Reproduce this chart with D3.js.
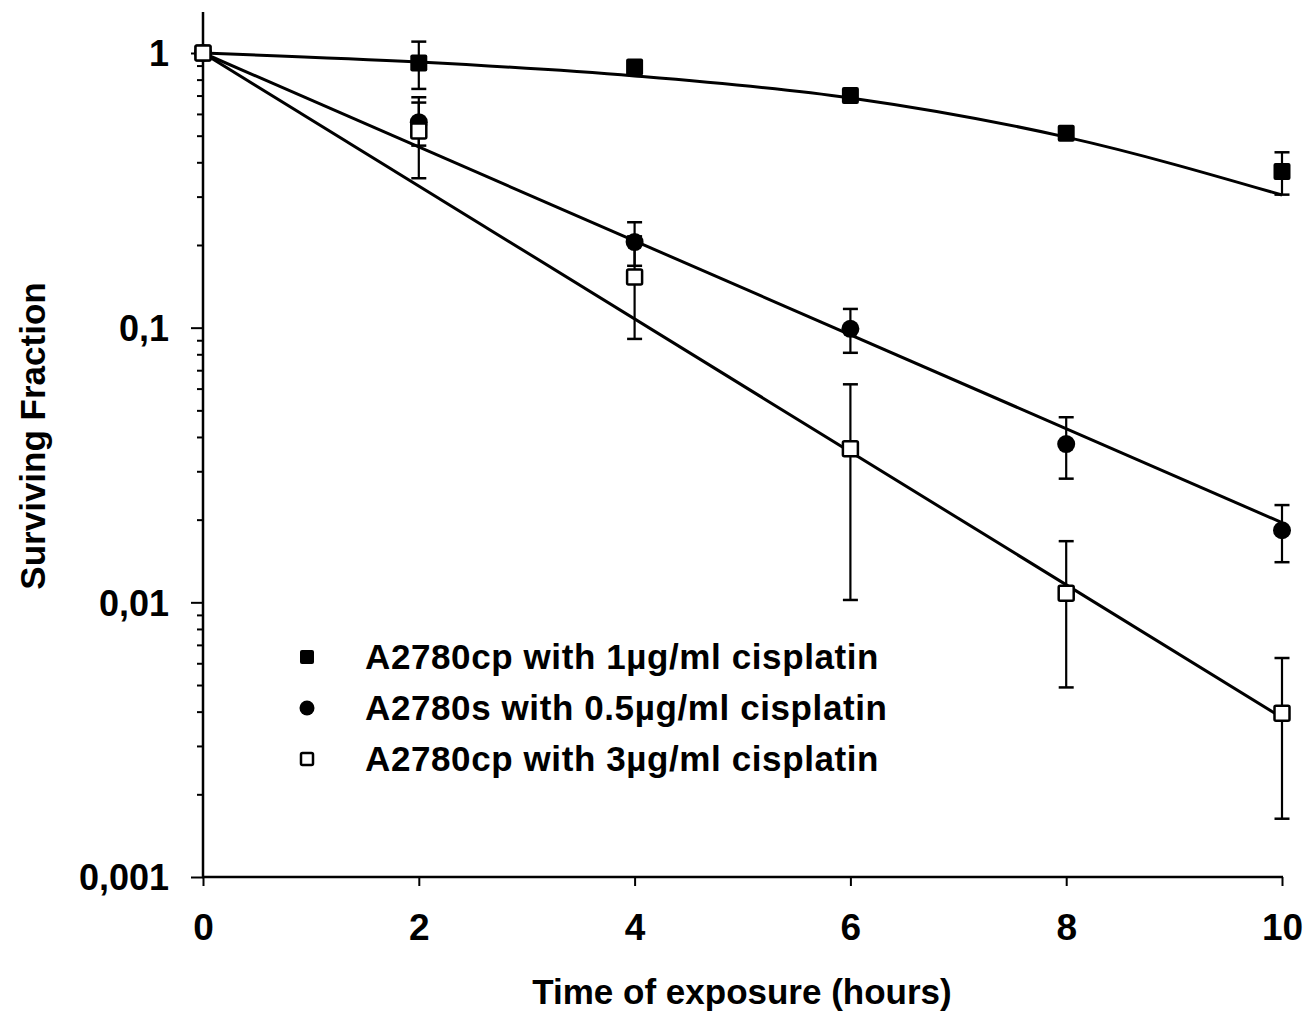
<!DOCTYPE html>
<html>
<head>
<meta charset="utf-8">
<script src="https://cdn.jsdelivr.net/npm/d3@7"></script>
<style>
  html, body { margin: 0; padding: 0; background: #fff; }
  svg { display: block; }
  text { font-family: "Liberation Sans", Arial, Helvetica, sans-serif; fill: #000; }
</style>
</head>
<body>
<svg id="chart" width="1308" height="1017"></svg>
<script>
// ---------------- data ----------------
const times = [0, 2, 4, 6, 8, 10];

const seriesNames = [
  "A2780cp with 1\u00B5g/ml cisplatin",
  "A2780s with 0.5\u00B5g/ml cisplatin",
  "A2780cp with 3\u00B5g/ml cisplatin"
];

// mean surviving fraction
const cp1Mean = [1.0, 0.92, 0.89, 0.70, 0.51, 0.37];
const s05Mean = [1.0, 0.56, 0.205, 0.099, 0.0377, 0.0183];
const cp3Mean = [1.0, 0.52, 0.153, 0.0362, 0.0108, 0.00395];

// standard deviation (error bars, linear units)
const cp1Sd = [0, 0.18, 0.03, 0.025, 0.015, 0.065];
const s05Sd = [0, 0.10, 0.037, 0.018, 0.0095, 0.0043];
const cp3Sd = [0, 0.17, 0.062, 0.026, 0.0059, 0.00232];

// fitted curves
const cp1FitTimes = [0, 2, 4, 6, 8, 10];
const cp1Fit = [1.0, 0.927, 0.825, 0.686, 0.494, 0.304];
const s05FitTimes = [0, 10];
const s05Fit = [1.0, 0.0195];
const cp3FitTimes = [0, 10];
const cp3Fit = [1.0, 0.0038];

// axis ticks
const xTicks = [0, 2, 4, 6, 8, 10];
const yMajorTicks = [1, 0.1, 0.01, 0.001];
const yTickLabels = ["1", "0,1", "0,01", "0,001"];
const xTitle = "Time of exposure (hours)";
const yTitle = "Surviving Fraction";

// ---------------- drawing ----------------
const svg = d3.select("#chart");

const x = d3.scaleLinear().domain([0, 10]).range([203, 1282]);
const y = d3.scaleLog().domain([0.001, 1]).range([877, 53]);

const series = [
  { name: seriesNames[0], mean: cp1Mean, sd: cp1Sd, fitT: cp1FitTimes, fit: cp1Fit, marker: "fsquare", curve: d3.curveMonotoneX },
  { name: seriesNames[1], mean: s05Mean, sd: s05Sd, fitT: s05FitTimes, fit: s05Fit, marker: "circle", curve: d3.curveLinear },
  { name: seriesNames[2], mean: cp3Mean, sd: cp3Sd, fitT: cp3FitTimes, fit: cp3Fit, marker: "osquare", curve: d3.curveLinear }
];

// axes lines
const axisG = svg.append("g");
axisG.append("line")
  .attr("x1", x(0)).attr("x2", x(0))
  .attr("y1", y(1.41)).attr("y2", y(0.001))
  .attr("stroke", "#000").attr("stroke-width", 2.5);
axisG.append("line")
  .attr("x1", x(0) - 1).attr("x2", x(10) + 1)
  .attr("y1", y(0.001)).attr("y2", y(0.001))
  .attr("stroke", "#000").attr("stroke-width", 2.5);

// y axis ticks via d3 axis (log)
const yMinor = [];
[0.001, 0.01, 0.1].forEach(d => { for (let k = 2; k <= 9; k++) yMinor.push(+(d * k).toPrecision(3)); });

const yAxisMajor = d3.axisLeft(y).tickValues(yMajorTicks)
  .tickSize(12).tickPadding(22)
  .tickFormat(d => yTickLabels[yMajorTicks.indexOf(d)]);
const gy = svg.append("g").attr("transform", `translate(${x(0)},0)`).call(yAxisMajor);
gy.select(".domain").remove();
gy.selectAll(".tick line").attr("stroke", "#000").attr("stroke-width", 2);
gy.selectAll(".tick text")
  .style("font-size", "36px").style("font-weight", "bold")
  .attr("dy", "0.36em");

const yAxisMinor = d3.axisLeft(y).tickValues(yMinor).tickSize(6).tickFormat("");
const gym = svg.append("g").attr("transform", `translate(${x(0)},0)`).call(yAxisMinor);
gym.select(".domain").remove();
gym.selectAll(".tick line").attr("stroke", "#000").attr("stroke-width", 2);

// x axis
const xAxis = d3.axisBottom(x).tickValues(xTicks).tickSize(9).tickPadding(28).tickFormat(d3.format("d"));
const gx = svg.append("g").attr("transform", `translate(0,${y(0.001)})`).call(xAxis);
gx.select(".domain").remove();
gx.selectAll(".tick line").attr("stroke", "#000").attr("stroke-width", 2);
gx.selectAll(".tick text").style("font-size", "37px").style("font-weight", "bold");

// titles
svg.append("text")
  .attr("x", 742).attr("y", 1004)
  .attr("text-anchor", "middle")
  .style("font-size", "35px").style("font-weight", "bold")
  .text(xTitle);
svg.append("text")
  .attr("transform", "translate(45,436) rotate(-90)")
  .attr("text-anchor", "middle")
  .style("font-size", "35px").style("font-weight", "bold")
  .text(yTitle);

// fit lines
series.forEach(s => {
  const pts = s.fitT.map((t, i) => [t, s.fit[i]]);
  svg.append("path")
    .attr("d", d3.line().x(d => x(d[0])).y(d => y(d[1])).curve(s.curve)(pts))
    .attr("fill", "none").attr("stroke", "#000").attr("stroke-width", 3);
});

// error bars
const capW = 15;
series.forEach(s => {
  const g = svg.append("g");
  times.forEach((t, i) => {
    const sd = s.sd[i];
    if (!sd) return;
    const hi = s.mean[i] + sd, lo = Math.max(s.mean[i] - sd, 1e-4);
    const cx = x(t);
    g.append("line").attr("x1", cx).attr("x2", cx).attr("y1", y(hi)).attr("y2", y(lo))
      .attr("stroke", "#000").attr("stroke-width", 2.2);
    [hi, lo].forEach(v => {
      g.append("line").attr("x1", cx - capW / 2).attr("x2", cx + capW / 2)
        .attr("y1", y(v)).attr("y2", y(v))
        .attr("stroke", "#000").attr("stroke-width", 2.5);
    });
  });
});

// markers
function drawMarker(g, type, cx, cy, size) {
  if (type === "fsquare") {
    g.append("rect").attr("x", cx - size / 2).attr("y", cy - size / 2)
      .attr("width", size).attr("height", size).attr("rx", 2)
      .attr("fill", "#000");
  } else if (type === "circle") {
    g.append("circle").attr("cx", cx).attr("cy", cy).attr("r", size / 2 + 0.5)
      .attr("fill", "#000");
  } else {
    const s2 = size - 2;
    g.append("rect").attr("x", cx - s2 / 2).attr("y", cy - s2 / 2)
      .attr("width", s2).attr("height", s2).attr("rx", 1.5)
      .attr("fill", "#fff").attr("stroke", "#000").attr("stroke-width", 2.5);
  }
}
series.forEach(s => {
  const g = svg.append("g");
  times.forEach((t, i) => drawMarker(g, s.marker, x(t), y(s.mean[i]), 17));
});

// legend
const legendRows = [657, 708, 759];
const legend = svg.append("g");
series.forEach((s, i) => {
  drawMarker(legend, s.marker, 307, legendRows[i], 14);
  legend.append("text")
    .attr("x", 365).attr("y", legendRows[i] + 12)
    .style("font-size", "35px")
    .style("font-weight", "bold")
    .style("letter-spacing", "0.6px")
    .text(s.name);
});
</script>
</body>
</html>
